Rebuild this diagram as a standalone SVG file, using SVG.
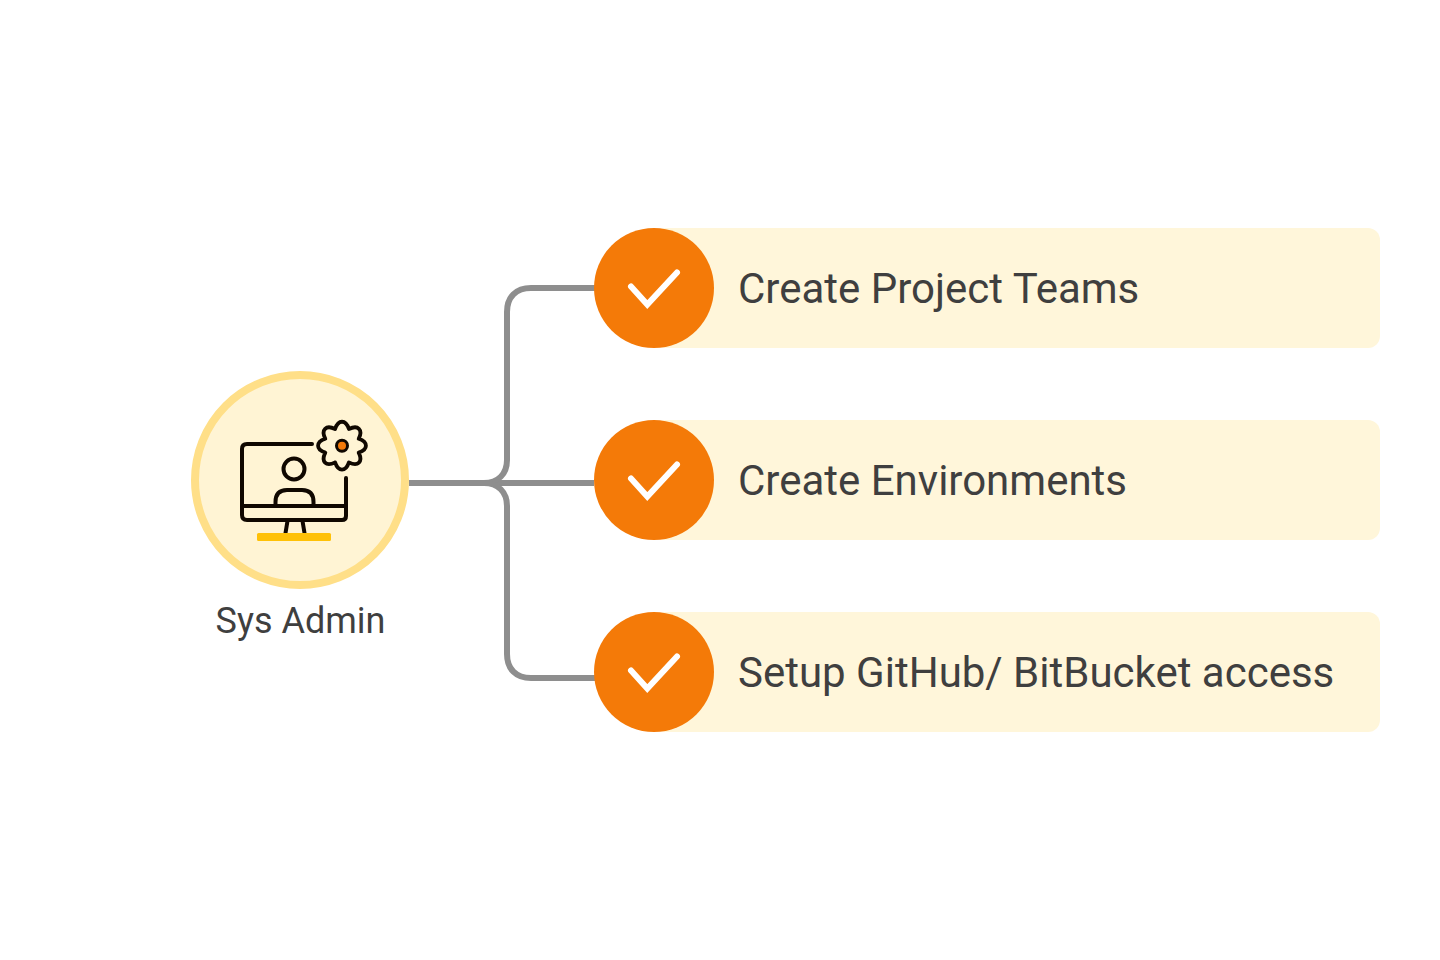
<svg xmlns="http://www.w3.org/2000/svg" width="1440" height="960" viewBox="0 0 1440 960">
<style>
.card{fill:#FFF6DA}
.dot{fill:#F47A08}
.chk{fill:none;stroke:#fff;stroke-width:6;stroke-linecap:round;stroke-linejoin:miter}
.lbl{font-family:Roboto,"Liberation Sans",sans-serif;font-size:42px;fill:#3F3F3F}
.ico{fill:none;stroke:#100800;stroke-width:4;stroke-linecap:round;stroke-linejoin:round}
.wire{fill:none;stroke:#8E8E8E;stroke-width:6}
</style>
<defs>
<g id="check"><circle class="dot" r="60"/><path class="chk" d="M-23-1.500L-6.700 16.500L23-15.500"/></g>
</defs>
<rect width="1440" height="960" fill="#fff"/>
<g id="connectors">
<path class="wire" d="M409 483H594"/>
<path class="wire" d="M484 483C498 483 507 474 507 460V312C507 297 516 288 531 288H595"/>
<path class="wire" d="M484 483C498 483 507 492 507 506V654C507 669 516 678 531 678H595"/>
</g>
<g id="sys-admin">
<circle cx="300" cy="480" r="105" fill="#FFF4D4" stroke="#FFDF88" stroke-width="8"/>
<path class="ico" d="M312 444H247Q242 444 242 449V515Q242 520 247 520H342Q346 520 346 516V478M242 506H346"/>
<circle class="ico" cx="294" cy="469" r="10.500"/>
<path class="ico" d="M275.500 505V502Q275.500 490 287 490H302Q313.500 490 313.500 502V505"/>
<path class="ico" d="M287.500 521L285.500 533M302.500 521L304.500 533"/>
<rect x="257" y="533" width="74" height="8" rx="1.500" fill="#FFC107"/>
<g transform="translate(342 445.700)">
<path class="ico" transform="scale(.95)" d="M-7.270-17.550C-3.900-27.730 3.900-27.730 7.270-17.550C16.850-22.360 22.360-16.850 17.550-7.270C27.730-3.900 27.730 3.900 17.550 7.270C22.360 16.850 16.850 22.360 7.270 17.550C3.900 27.730-3.900 27.730-7.270 17.550C-16.850 22.360-22.360 16.850-17.550 7.270C-27.730 3.900-27.730-3.900-17.550-7.270C-22.360-16.850-16.850-22.360-7.270-17.550Z"/>
<circle r="5.500" fill="#F47A08" stroke="#100800" stroke-width="3"/>
</g>
<text x="300.500" y="633" text-anchor="middle" style="font-family:Roboto,'Liberation Sans',sans-serif;font-size:36px;fill:#3F3F3F">Sys Admin</text>
</g>
<g id="item-1">
<rect class="card" x="654" y="228" width="726" height="120" rx="12"/>
<use href="#check" x="654" y="288"/>
<text class="lbl" x="738" y="303">Create Project Teams</text>
</g>
<g id="item-2">
<rect class="card" x="654" y="420" width="726" height="120" rx="12"/>
<use href="#check" x="654" y="480"/>
<text class="lbl" x="738" y="495">Create Environments</text>
</g>
<g id="item-3">
<rect class="card" x="654" y="612" width="726" height="120" rx="12"/>
<use href="#check" x="654" y="672"/>
<text class="lbl" x="738" y="687">Setup GitHub/ BitBucket access</text>
</g>
</svg>
